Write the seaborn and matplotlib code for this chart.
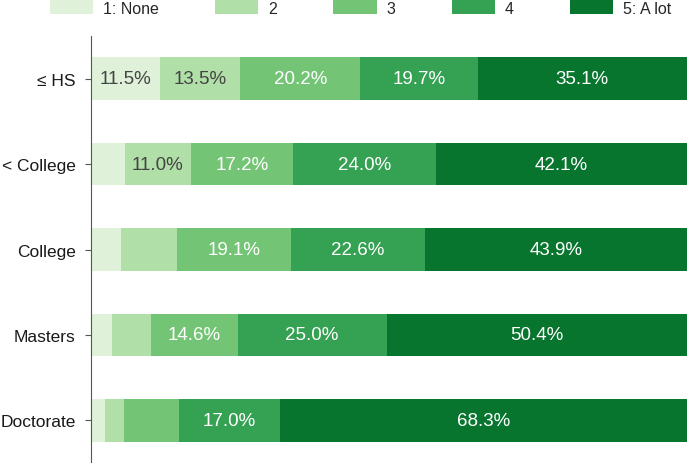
import pandas as pd
import seaborn as sns
import matplotlib.pyplot as plt
from matplotlib.patches import Patch

# data
education = ["\u2264 HS", "< College", "College", "Masters", "Doctorate"]
levels = ["1: None", "2", "3", "4", "5: A lot"]
none_pct = [11.5, 5.7, 5.0, 3.5, 2.4]
two_pct = [13.5, 11.0, 9.4, 6.5, 3.1]
three_pct = [20.2, 17.2, 19.1, 14.6, 9.2]
four_pct = [19.7, 24.0, 22.6, 25.0, 17.0]
alot_pct = [35.1, 42.1, 43.9, 50.4, 68.3]

colors = ["#dff2d9", "#b1dfa8", "#74c476", "#35a153", "#08752e"]
text_colors = ["#444444", "#444444", "white", "white", "white"]

sns.set_style("white")
plt.rcParams["font.family"] = ["Liberation Sans", "DejaVu Sans"]

df = pd.DataFrame({"Education": education, "1: None": none_pct, "2": two_pct,
                   "3": three_pct, "4": four_pct, "5: A lot": alot_pct})
cum = df[levels].cumsum(axis=1)

fig = plt.figure(figsize=(6.87, 4.64), dpi=100)
ax = fig.add_axes([91 / 687, 0, 1 - 91 / 687, 427 / 464])

# stacked bars: draw cumulative totals from the largest down
for i in range(len(levels) - 1, -1, -1):
    sns.barplot(x=cum[levels[i]], y=df["Education"], color=colors[i],
                width=0.5, orient="h", ax=ax, saturation=1, linewidth=0)

# segment labels
for i, lev in enumerate(levels):
    for j in range(len(education)):
        val = df[lev][j]
        if val >= 10:
            center = cum[lev][j] - val / 2
            ax.text(center, j, f"{val:.1f}%", ha="center", va="center",
                    color=text_colors[i], fontsize=13.5)

ax.set_xlim(0, 100)
ax.set_ylim(4.5, -0.5)
ax.set_xlabel("")
ax.set_ylabel("")
ax.set_xticks([])
ax.tick_params(axis="y", labelsize=12.5, labelcolor="#1a1a1a", length=4,
               color="#555555", left=True, pad=7)
for s in ["top", "right", "bottom"]:
    ax.spines[s].set_visible(False)
ax.spines["left"].set_color("#555555")
ax.spines["left"].set_linewidth(0.8)

handles = [Patch(facecolor=c, edgecolor="none") for c in colors]
fig.legend(handles, levels, loc="upper left", bbox_to_anchor=(50 / 687, 0.998),
           ncol=5, frameon=False, fontsize=11.5, handlelength=2.7,
           handleheight=1.0, handletextpad=0.6, columnspacing=3.55,
           borderpad=0, borderaxespad=0)

plt.savefig("out.png", dpi=100)
